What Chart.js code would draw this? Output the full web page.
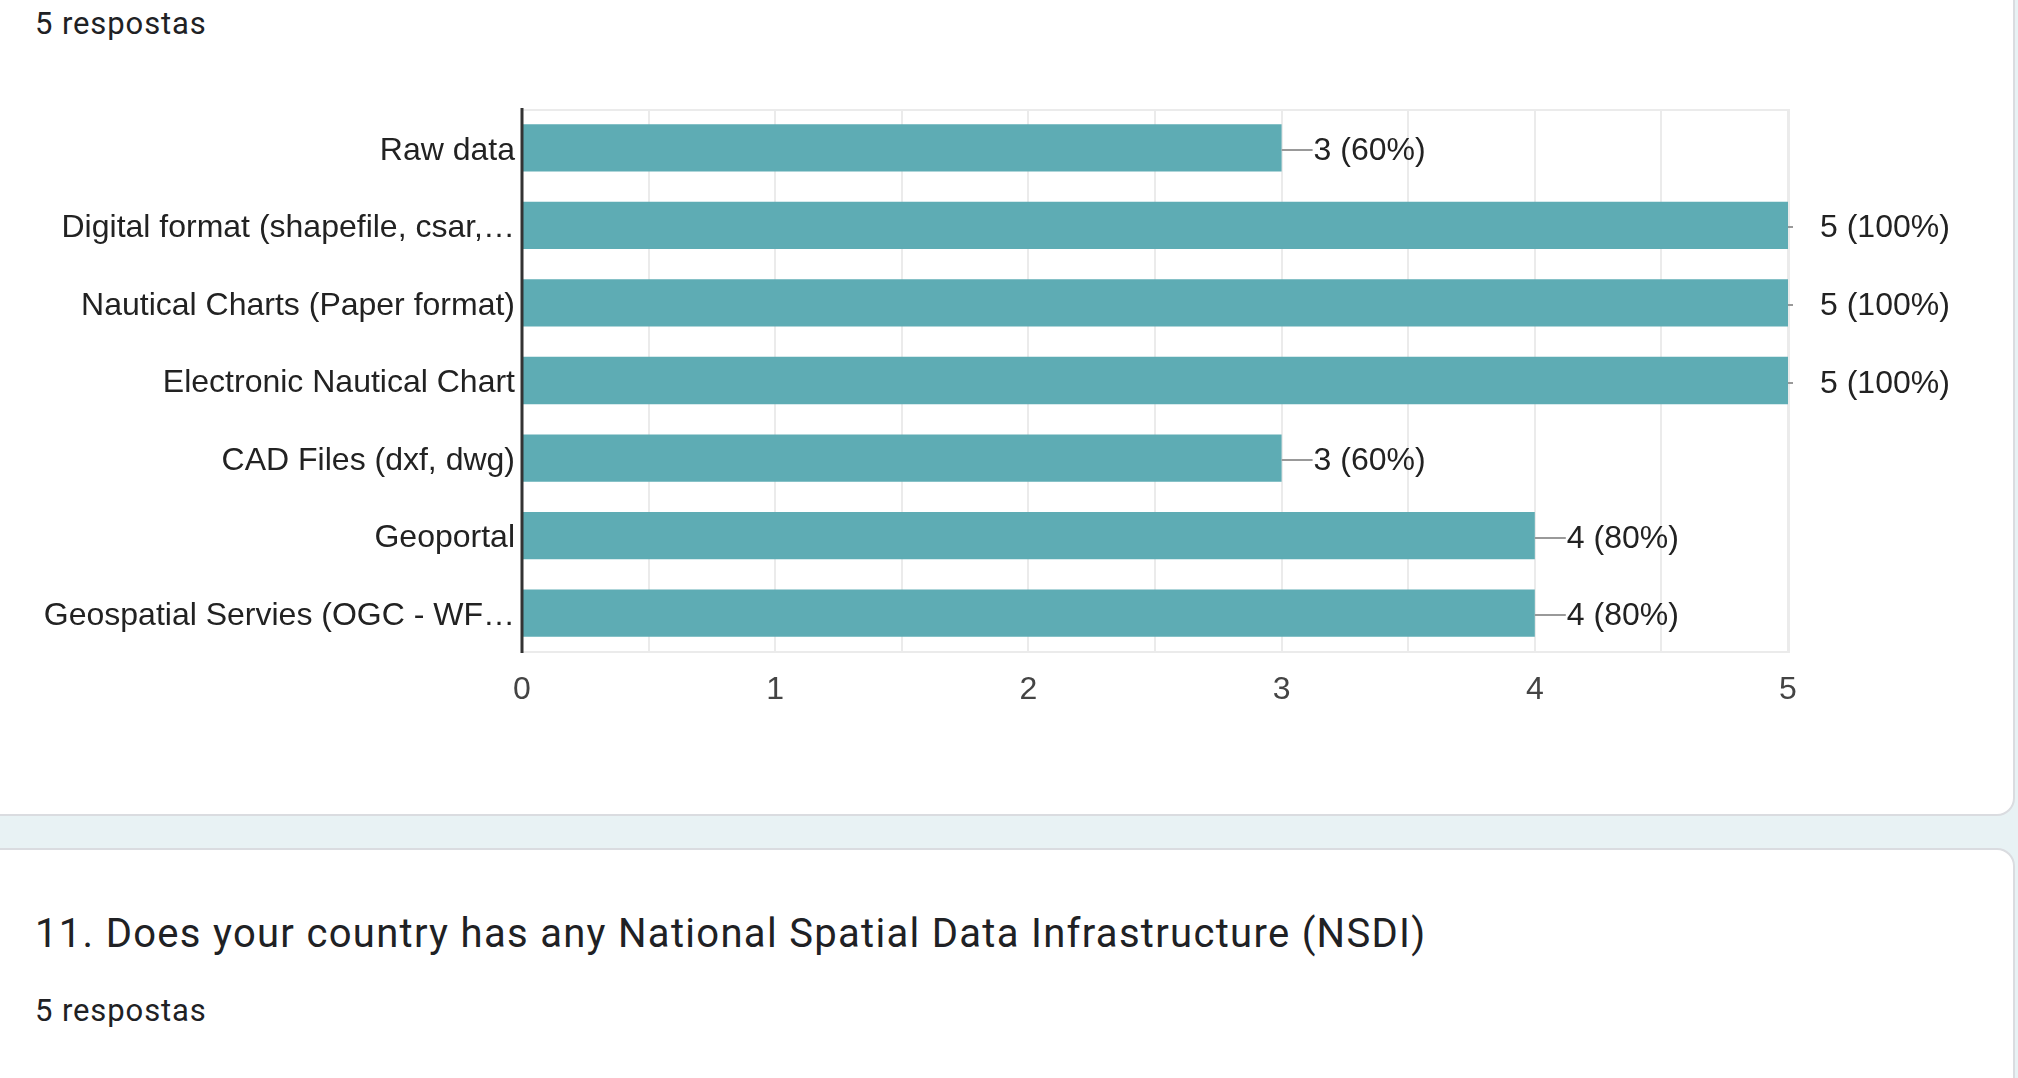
<!DOCTYPE html>
<html>
<head>
<meta charset="utf-8">
<script src="https://cdn.jsdelivr.net/npm/chart.js@4.4.0/dist/chart.umd.min.js"></script>
<style>
  html, body { margin: 0; padding: 0; }
  body { width: 2018px; height: 1078px; overflow: hidden; background: #e8f2f4; position: relative; font-family: Roboto, "Noto Sans", sans-serif; }
  .card { position: absolute; background: #fff; border: 2px solid #dadce0; border-radius: 18px; box-sizing: border-box; }
  #card1 { left: -40px; top: -40px; width: 2055px; height: 856px; }
  #card2 { left: -40px; top: 848px; width: 2055px; height: 400px; }
  .txt { position: absolute; left: 35px; color: #202124; white-space: nowrap; line-height: 1; }
  .resp { font-size: 31px; letter-spacing: 0.9px; }
  #title { font-size: 40px; letter-spacing: 1.3px; top: 914px; }
  #chartbox { position: absolute; left: 0; top: 0; width: 2018px; height: 780px; }
</style>
</head>
<body>
<div class="card" id="card1"></div>
<div class="card" id="card2"></div>
<div class="txt resp" style="top:8px">5 respostas</div>
<div class="txt" id="title">11. Does your country has any National Spatial Data Infrastructure (NSDI)</div>
<div class="txt resp" style="top:995px">5 respostas</div>
<div id="chartbox"><canvas id="c"></canvas></div>
<script>
const categories = [
  "Raw data",
  "Digital format (shapefile, csar,\u2026",
  "Nautical Charts (Paper format)",
  "Electronic Nautical Chart",
  "CAD Files (dxf, dwg)",
  "Geoportal",
  "Geospatial Servies (OGC - WF\u2026"
];
const counts = [3, 5, 5, 5, 3, 4, 4];
const responses = 5;
const xTicks = [0, 1, 2, 3, 4, 5];

const FONT = "'Liberation Sans', Arial, sans-serif";

const plotFrame = {
  id: 'plotFrame',
  beforeDatasetsDraw(chart) {
    const a = chart.chartArea, ctx = chart.ctx;
    ctx.save();
    ctx.strokeStyle = '#ebebeb';
    ctx.lineWidth = 2;
    ctx.beginPath();
    ctx.moveTo(a.left, a.top + 1); ctx.lineTo(a.right + 1, a.top + 1);
    ctx.moveTo(a.left, a.bottom); ctx.lineTo(a.right + 1, a.bottom);
    ctx.moveTo(a.right + 1, a.top); ctx.lineTo(a.right + 1, a.bottom + 1);
    ctx.stroke();
    ctx.restore();
  },
  afterDatasetsDraw(chart) {
    const a = chart.chartArea, ctx = chart.ctx;
    const xs = chart.scales.x;
    const meta = chart.getDatasetMeta(0);
    ctx.save();
    ctx.font = '32px ' + FONT;
    ctx.textBaseline = 'middle';
    ctx.textAlign = 'left';
    meta.data.forEach((bar, i) => {
      const v = counts[i];
      const txt = v + ' (' + Math.round(v / responses * 100) + '%)';
      const y = Math.round(bar.y) + 2;
      ctx.strokeStyle = '#999';
      ctx.lineWidth = 2;
      ctx.beginPath();
      ctx.moveTo(bar.x, y);
      ctx.lineTo(bar.x + (v >= xs.max ? 5 : 31), y);
      ctx.stroke();
      ctx.fillStyle = '#222';
      ctx.fillText(txt, bar.x + 32, y + 1);
    });
    const x0 = xs.getPixelForValue(0);
    ctx.strokeStyle = '#333';
    ctx.lineWidth = 3;
    ctx.beginPath();
    ctx.moveTo(x0, a.top - 1); ctx.lineTo(x0, a.bottom + 1);
    ctx.stroke();
    ctx.restore();
  }
};

new Chart(document.getElementById('c'), {
  type: 'bar',
  data: {
    labels: categories,
    datasets: [{
      data: counts,
      backgroundColor: '#5eacb4',
      borderWidth: 0,
      barPercentage: 0.61,
      categoryPercentage: 1.0
    }]
  },
  options: {
    indexAxis: 'y',
    responsive: true,
    maintainAspectRatio: false,
    animation: false,
    events: [],
    layout: { padding: { top: 109, right: 230, left: 0, bottom: 0 } },
    plugins: { legend: { display: false }, tooltip: { enabled: false } },
    scales: {
      x: {
        type: 'linear',
        min: 0,
        max: 5,
        afterFit(scale) { scale.height = 128; },
        afterBuildTicks(scale) {
          const t = [];
          for (let i = 0; i < xTicks.length; i++) {
            t.push({ value: xTicks[i] });
            if (i < xTicks.length - 1) t.push({ value: (xTicks[i] + xTicks[i + 1]) / 2 });
          }
          scale.ticks = t;
        },
        border: { display: false },
        grid: {
          drawTicks: false,
          color: '#ebebeb',
          lineWidth: 2
        },
        ticks: {
          padding: 19,
          color: '#444',
          font: { family: FONT, size: 32 },
          maxRotation: 0,
          autoSkip: false,
          callback: (v) => xTicks.includes(v) ? String(v) : ''
        }
      },
      y: {
        afterFit(scale) { scale.width = 522; },
        border: { display: false },
        grid: { display: false, drawTicks: false },
        ticks: {
          padding: 7,
          color: '#222',
          autoSkip: false,
          font: { family: FONT, size: 32, lineHeight: '6px' },
          callback: (v, i) => ['', categories[i]]
        }
      }
    }
  },
  plugins: [plotFrame]
});
</script>
</body>
</html>
